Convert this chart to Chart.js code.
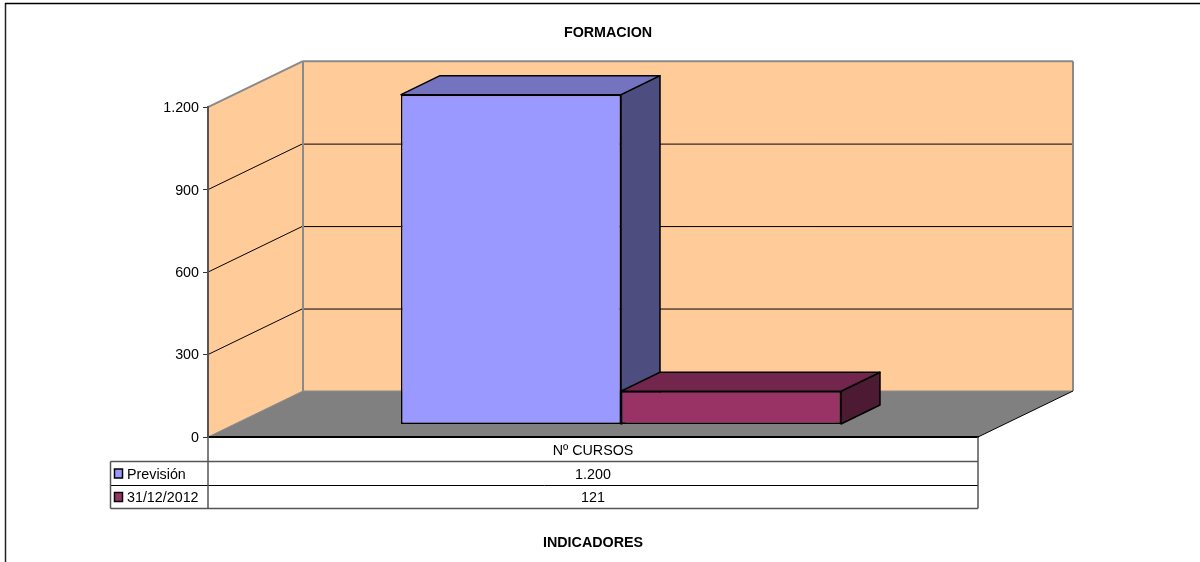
<!DOCTYPE html>
<html>
<head>
<meta charset="utf-8">
<title>FORMACION</title>
<script src="https://cdn.jsdelivr.net/npm/chart.js@4/dist/chart.umd.js"></script>
<style>
  html, body { margin: 0; padding: 0; background: #fff; }
  canvas { display: block; }
</style>
</head>
<body>
<canvas id="chart" width="1200" height="562"></canvas>
<script>
const categories = ['Nº CURSOS'];
const seriesNames = ['Previsión', '31/12/2012'];
const prevision = [1200];
const cierre = [121];
const chartTitle = 'FORMACION';
const axisTitle = 'INDICADORES';

const FONT = '"Liberation Sans", Arial, sans-serif';
const FONT_SIZE = 14.3;
const WALL_DX = 95, WALL_DY = -46;   // depth of the whole box
const BAR_DX = 39, BAR_DY = -19;     // depth of one bar
const BAR_SHIFT_X = 28, BAR_SHIFT_Y = -12.5; // bars sit a bit inside the box
const TITLE_CENTER = 608;

const colors = {
  wall: '#FFCC99',
  floor: '#808080',
  edge: '#8a8a8a',
  front: ['#9999FF', '#993366'],
  top: ['#7373BF', '#73264D'],
  side: ['#4D4D80', '#4D1A33']
};

const fmt = v => String(v).replace(/\B(?=(\d{3})+$)/g, '.');

function poly(ctx, pts, fill, stroke, lw) {
  ctx.beginPath();
  pts.forEach((p, i) => i ? ctx.lineTo(p[0], p[1]) : ctx.moveTo(p[0], p[1]));
  ctx.closePath();
  if (fill) { ctx.fillStyle = fill; ctx.fill(); }
  if (stroke) { ctx.strokeStyle = stroke; ctx.lineWidth = lw; ctx.stroke(); }
}

function seg(ctx, x1, y1, x2, y2, color, lw) {
  ctx.beginPath();
  ctx.moveTo(x1, y1);
  ctx.lineTo(x2, y2);
  ctx.strokeStyle = color;
  ctx.lineWidth = lw;
  ctx.stroke();
}

const box3d = {
  id: 'box3d',
  // the title is centred on the whole sheet, not on the padded box
  afterLayout(chart) {
    chart.titleBlock.left = 0;
    chart.titleBlock.right = TITLE_CENTER * 2;
  },
  // walls and floor, behind everything
  beforeDraw(chart) {
    const { ctx, chartArea: a, scales: { y } } = chart;
    const l = a.left, r = a.right, t = a.top, b = a.bottom;
    ctx.save();
    poly(ctx, [[l + WALL_DX, t + WALL_DY], [r + WALL_DX, t + WALL_DY], [r + WALL_DX, b + WALL_DY], [l + WALL_DX, b + WALL_DY]], colors.wall);
    poly(ctx, [[l, t], [l + WALL_DX, t + WALL_DY], [l + WALL_DX, b + WALL_DY], [l, b]], colors.wall);
    poly(ctx, [[l, b], [l + WALL_DX, b + WALL_DY], [r + WALL_DX, b + WALL_DY], [r, b]], colors.floor);

    y.ticks.forEach(tk => {
      if (tk.value === 0 || tk.value === y.max) return;
      const py = y.getPixelForValue(tk.value);
      seg(ctx, l, py, l + WALL_DX, py + WALL_DY, '#000', 1);
      seg(ctx, l + WALL_DX, py + WALL_DY + 0.5, r + WALL_DX, py + WALL_DY + 0.5, '#000', 1);
    });

    // wall outline
    seg(ctx, l, t, l + WALL_DX, t + WALL_DY, colors.edge, 2);
    seg(ctx, l + WALL_DX, t + WALL_DY, r + WALL_DX, t + WALL_DY, colors.edge, 2);
    seg(ctx, l + WALL_DX, t + WALL_DY, l + WALL_DX, b + WALL_DY, colors.edge, 2);
    seg(ctx, r + WALL_DX, t + WALL_DY, r + WALL_DX, b + WALL_DY, colors.edge, 2);
    seg(ctx, l + WALL_DX, b + WALL_DY, r + WALL_DX, b + WALL_DY, colors.edge, 1);
    seg(ctx, l, b, l + WALL_DX, b + WALL_DY, colors.edge, 1);
    seg(ctx, r, b, r + WALL_DX, b + WALL_DY, '#000', 1);
    ctx.restore();
  },
  // top and side faces of the bars
  beforeDatasetsDraw(chart) {
    const ctx = chart.ctx;
    ctx.save();
    ctx.lineJoin = 'round';
    chart.data.datasets.forEach((ds, i) => {
      chart.getDatasetMeta(i).data.forEach(bar => {
        const x1 = bar.x - bar.width / 2 + BAR_SHIFT_X;
        const x2 = bar.x + bar.width / 2 + BAR_SHIFT_X;
        const yt = bar.y + BAR_SHIFT_Y;
        const yb = bar.base + BAR_SHIFT_Y;
        poly(ctx, [[x2, yt], [x2 + BAR_DX, yt + BAR_DY], [x2 + BAR_DX, yb + BAR_DY], [x2, yb]], colors.side[i], '#000', 1.5);
        poly(ctx, [[x1, yt], [x1 + BAR_DX, yt + BAR_DY], [x2 + BAR_DX, yt + BAR_DY], [x2, yt]], colors.top[i], '#000', 1.5);
      });
    });
    ctx.restore();
  },
  beforeDatasetDraw(chart) {
    chart.ctx.save();
    chart.ctx.translate(BAR_SHIFT_X, BAR_SHIFT_Y);
  },
  afterDatasetDraw(chart) {
    chart.ctx.restore();
  },
  // data table under the plot and the outer frame
  afterDraw(chart) {
    const { ctx, chartArea: a } = chart;
    const tableLeft = 110.5, r1 = a.bottom + 24.5, r2 = r1 + 24, r3 = r2 + 23;
    ctx.save();
    seg(ctx, tableLeft, r1, a.right, r1, '#555', 1.5);
    seg(ctx, tableLeft, r2, a.right, r2, '#000', 1);
    seg(ctx, tableLeft, r3, a.right, r3, '#555', 1.5);
    seg(ctx, tableLeft, r1, tableLeft, r3, '#555', 1.5);
    seg(ctx, a.left, a.bottom, a.left, r3, '#555', 1.5);
    seg(ctx, a.right, a.bottom, a.right, r3, '#555', 1.5);

    ctx.font = FONT_SIZE + 'px ' + FONT;
    ctx.textBaseline = 'middle';
    const rows = [[r1, r2, prevision[0]], [r2, r3, cierre[0]]];
    rows.forEach((row, i) => {
      const mid = (row[0] + row[1]) / 2 + 1.5;
      poly(ctx, [[114.5, mid - 6], [122.5, mid - 6], [122.5, mid + 3], [114.5, mid + 3]], colors.front[i], '#000', 1.5);
      ctx.fillStyle = '#000';
      ctx.textAlign = 'left';
      ctx.fillText(seriesNames[i], 127, mid);
      ctx.textAlign = 'center';
      ctx.fillText(fmt(row[2]), (a.left + a.right) / 2, mid);
    });

    seg(ctx, 5.5, 3, 5.5, 562, '#222', 1.5);
    seg(ctx, 5, 3.5, 1200, 3.5, '#000', 1.5);
    ctx.restore();
  }
};

new Chart(document.getElementById('chart'), {
  type: 'bar',
  plugins: [box3d],
  data: {
    labels: categories,
    datasets: [
      { label: seriesNames[0], data: prevision, backgroundColor: colors.front[0], borderColor: '#000', borderWidth: 1.5, borderSkipped: false, clip: false },
      { label: seriesNames[1], data: cierre, backgroundColor: colors.front[1], borderColor: '#000', borderWidth: 1.5, borderSkipped: false, clip: false }
    ]
  },
  options: {
    responsive: false,
    animation: false,
    layout: { padding: { left: 0, right: 222, top: 0, bottom: 0 } },
    datasets: { bar: { categoryPercentage: 0.5714, barPercentage: 1 } },
    plugins: {
      legend: { display: false },
      tooltip: { enabled: false },
      title: {
        display: true,
        text: chartTitle,
        color: '#000',
        font: { family: FONT, size: FONT_SIZE, weight: 'bold', lineHeight: 1.2 },
        padding: { top: 24, bottom: 66 }
      }
    },
    scales: {
      x: {
        afterFit: s => { s.height = 125; },
        grid: { display: false, drawTicks: false },
        border: { color: '#000', width: 2 },
        ticks: { color: '#000', font: { family: FONT, size: FONT_SIZE }, padding: 5 },
        title: {
          display: true,
          text: axisTitle,
          color: '#000',
          font: { family: FONT, size: FONT_SIZE, weight: 'bold' },
          padding: { top: 0, bottom: 10 }
        }
      },
      y: {
        min: 0,
        max: 1200,
        afterFit: s => { s.width = 208; },
        grid: { drawOnChartArea: false, drawTicks: true, tickLength: 5, color: '#333' },
        border: { color: '#555', width: 2 },
        ticks: {
          stepSize: 300,
          color: '#000',
          font: { family: FONT, size: FONT_SIZE },
          padding: 4,
          labelOffset: 1,
          callback: v => fmt(v)
        }
      }
    }
  }
});
</script>
</body>
</html>
